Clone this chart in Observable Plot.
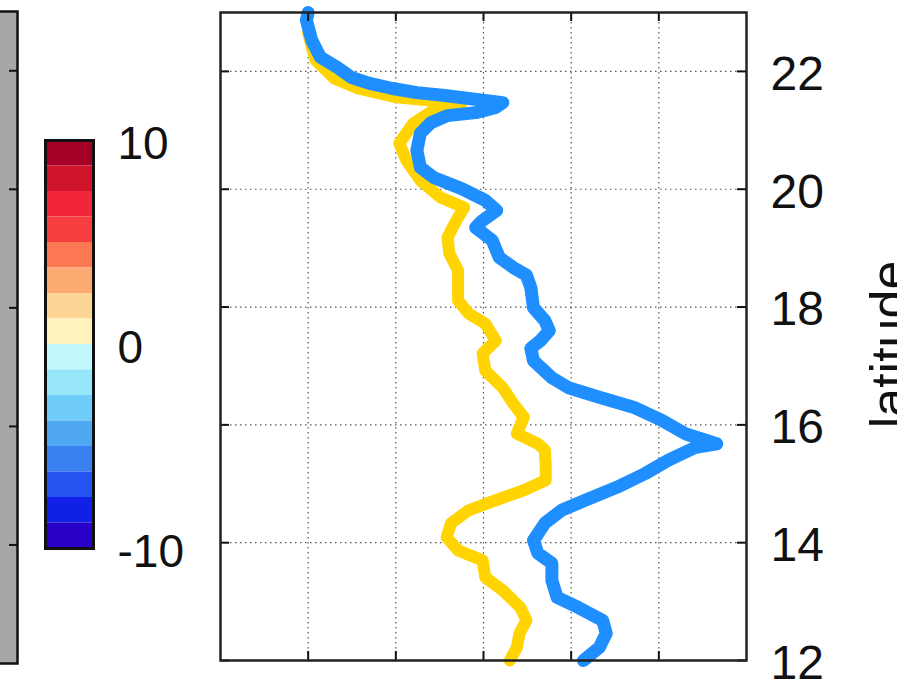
<!DOCTYPE html>
<html><head><meta charset="utf-8">
<script src="https://cdn.jsdelivr.net/npm/d3@7"></script>
<script src="https://cdn.jsdelivr.net/npm/@observablehq/plot@0.6"></script>
<style>
html,body{margin:0;padding:0;background:#fff;}
#wrap{position:relative;width:897px;height:686px;overflow:hidden;background:#fff;}
#wrap svg{position:absolute;top:0;}
</style></head><body><div id="wrap"></div>
<script>
// latitude ticks and x ticks
const latTicks = [12, 14, 16, 18, 20, 22];
const xTicks = [1, 2, 3, 4, 5];
// blue series
const blueLat = [23.0,22.87,22.53,22.24,22.07,21.90,21.80,21.71,21.64,21.59,21.54,21.47,21.39,21.30,21.25,21.13,20.95,20.66,20.37,20.20,20.01,19.81,19.64,19.47,19.35,19.13,18.84,18.67,18.54,18.33,17.99,17.77,17.60,17.43,17.30,17.09,16.80,16.63,16.47,16.30,16.08,15.85,15.68,15.62,15.40,15.17,14.94,14.72,14.55,14.33,14.04,13.82,13.65,13.36,13.07,12.90,12.68,12.46,12.22,12.00];
const blueVal = [1.00,0.98,1.04,1.14,1.33,1.49,1.69,1.96,2.24,2.56,2.83,3.22,3.14,2.91,2.59,2.40,2.28,2.24,2.28,2.43,2.75,3.02,3.15,2.99,2.91,3.10,3.18,3.34,3.49,3.54,3.57,3.70,3.75,3.65,3.54,3.57,3.78,3.97,4.32,4.71,5.03,5.30,5.66,5.42,5.11,4.84,4.52,4.16,3.89,3.70,3.57,3.62,3.78,3.78,3.84,4.08,4.36,4.40,4.32,4.14];
// yellow series
const yellowLat = [22.65,22.2,21.88,21.71,21.56,21.51,21.46,21.34,21.12,20.78,20.49,20.15,19.86,19.69,19.52,19.30,19.18,18.91,18.62,18.33,18.11,17.89,17.72,17.43,17.21,16.92,16.63,16.36,16.13,15.85,15.68,15.57,15.28,15.06,14.89,14.72,14.55,14.33,14.09,13.87,13.70,13.41,13.19,12.90,12.68,12.46,12.22,12.00];
const yellowVal = [1.0,1.08,1.30,1.57,2.01,2.36,2.75,2.43,2.20,2.04,2.12,2.28,2.51,2.78,2.71,2.63,2.59,2.61,2.71,2.71,2.71,2.83,3.02,3.14,2.99,3.02,3.22,3.34,3.46,3.38,3.62,3.70,3.71,3.71,3.46,3.14,2.83,2.63,2.58,2.71,2.99,3.02,3.22,3.42,3.49,3.41,3.38,3.30];
// colorbar
const cbColors = ["#a50026","#d0142c","#f2263a","#f83e3e","#fc7852","#fdaa72","#fdd596","#fff2bd","#c0f8fc","#98e6fa","#70ccf8","#50a8f2","#3a80f0","#2455f0","#1020e6","#2800c8"];
const cbBounds = [10,8.75,7.5,6.25,5,3.75,2.5,1.25,0,-1.25,-2.5,-3.75,-5,-6.25,-7.5,-8.75,-10];
const cbTicks = [-10, 0, 10];
const panelTicks = [14, 16, 18, 20, 22];

const FONT = '"Liberation Sans", Arial, Helvetica, sans-serif';
const wrap = document.getElementById("wrap");
const baseStyle = {background: "transparent", overflow: "visible", fontFamily: FONT, color: "#111"};

// gray neighbouring panel (cut off on the left)
const panelW = 31;
const panel = Plot.plot({
  width: panelW, height: 686,
  marginLeft: 0, marginRight: 2, marginTop: 11, marginBottom: 23,
  style: baseStyle,
  x: {domain: [0, 1], axis: null},
  y: {domain: [12, 23], axis: null},
  marks: [
    Plot.frame({fill: "#a7a7a7", stroke: "#111", strokeWidth: 2.5}),
    Plot.tickY(panelTicks, {y: d => d, stroke: "#111", strokeWidth: 2, insetLeft: panelW - 2 - 8})
  ]
});
panel.style.left = "-12px";
wrap.appendChild(panel);

// colorbar
const cb = Plot.plot({
  width: 220, height: 686,
  marginLeft: 45, marginRight: 127, marginTop: 140, marginBottom: 138,
  style: baseStyle,
  x: {domain: [0, 1], axis: null},
  y: {domain: [-10, 10], axis: null},
  color: {type: "identity"},
  marks: [
    Plot.rect(cbColors, {y1: (d, i) => cbBounds[i + 1], y2: (d, i) => cbBounds[i], fill: d => d}),
    Plot.frame({stroke: "#111", strokeWidth: 3}),
    Plot.axisY(cbTicks, {anchor: "right", tickSize: 0, tickPadding: 24, fontSize: 46, dy: 4, tickFormat: d => String(d), label: null})
  ]
});
cb.style.left = "0px";
wrap.appendChild(cb);

// main panel
const W = 897, H = 686, mL = 220, mR = 151, mT = 12, mB = 26;
const pw = W - mL - mR, ph = H - mT - mB;
const main = Plot.plot({
  width: W, height: H,
  marginLeft: mL, marginRight: mR, marginTop: mT, marginBottom: mB,
  style: baseStyle,
  x: {domain: [0, 6], axis: null},
  y: {domain: [12, 23], axis: null},
  marks: [
    Plot.gridX(xTicks, {stroke: "#444", strokeOpacity: 0.9, strokeWidth: 1.2, strokeDasharray: "1.5,3.5"}),
    Plot.gridY(latTicks, {stroke: "#444", strokeOpacity: 0.9, strokeWidth: 1.2, strokeDasharray: "1.5,3.5"}),
    Plot.line(yellowLat, {x: yellowVal, y: yellowLat, stroke: "#ffd400", strokeWidth: 12, strokeLinejoin: "round", strokeLinecap: "round"}),
    Plot.line(blueLat, {x: blueVal, y: blueLat, stroke: "#1f8fff", strokeWidth: 13, strokeLinejoin: "round", strokeLinecap: "round"}),
    Plot.tickX(xTicks, {x: d => d, stroke: "#111", strokeWidth: 2, insetTop: ph - 9}),
    Plot.tickX(xTicks, {x: d => d, stroke: "#111", strokeWidth: 2, insetBottom: ph - 9}),
    Plot.tickY(latTicks, {y: d => d, stroke: "#111", strokeWidth: 2, insetRight: pw - 9}),
    Plot.tickY(latTicks, {y: d => d, stroke: "#111", strokeWidth: 2, insetLeft: pw - 9}),
    Plot.frame({stroke: "#222", strokeWidth: 2.5}),
    Plot.axisY(latTicks, {anchor: "right", tickSize: 0, tickPadding: 24, fontSize: 48, dy: 3, tickFormat: d => String(d), label: null}),
    Plot.text(["latitude"], {frameAnchor: "right", textAnchor: "middle", lineAnchor: "middle", dx: 144, dy: 8, rotate: -90, fontSize: 52, fill: "#111"})
  ]
});
main.style.left = "0px";
wrap.appendChild(main);
</script></body></html>
